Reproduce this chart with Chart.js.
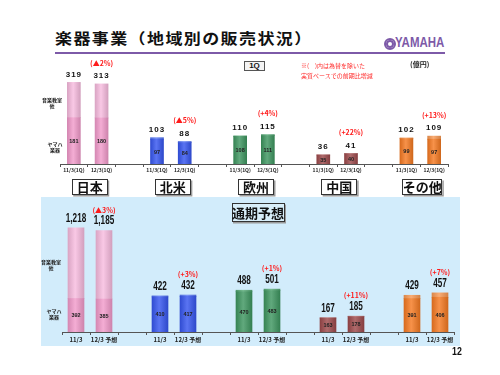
<!DOCTYPE html>
<html>
<head>
<meta charset="utf-8">
<script src="https://cdn.jsdelivr.net/npm/chart.js@4.4.1/dist/chart.umd.min.js"></script>
<style>
body { margin: 0; width: 500px; height: 375px; position: relative; overflow: hidden; background: #fff;
       font-family: 'Noto Sans CJK JP', sans-serif; }
.abs { position: absolute; white-space: nowrap; }
#title { left: 55px; top: 30px; font-size: 17px; font-weight: bold; line-height: 1; letter-spacing: 1.4px;
         color: #111; transform: scaleY(0.88); transform-origin: left top; }
#rule { left: 55px; top: 52px; width: 390px; height: 2px; background: #7d5aa8; }
#emblem { left: 384px; top: 38px; width: 8px; height: 8px; border-radius: 50%; background: #fff;
          border: 2px solid #7d5aa8; box-shadow: inset 0 0 0 2px #7d5aa8; }
#logo { left: 395px; top: 35px; font: bold 14px 'Liberation Sans', sans-serif; color: #7d5aa8; line-height: 1;
        transform: scaleX(0.82); transform-origin: left top; }
#panel { left: 41px; top: 197px; width: 419px; height: 149px; background: #d2ecfb; }
canvas { position: absolute; left: 0; }
#c1 { top: 55px; }
#c2 { top: 198px; }
#q1box { left: 244px; top: 61px; width: 19px; height: 8px; border: 1px solid #555; background: #f4f4f4;
         font: bold 8px 'Liberation Sans', sans-serif; line-height: 8px; text-align: center; color: #111; }
.note { left: 301px; font-size: 6px; color: #ff2a2a; line-height: 1; }
#unit { left: 410px; top: 61px; font-size: 7px; font-weight: bold; line-height: 1; color: #222; }
.side { font-size: 5px; font-weight: bold; line-height: 6px; text-align: center; width: 22px; color: #222; }
#page { left: 452px; top: 346px; font: bold 11px 'Liberation Sans', sans-serif; color: #111; line-height: 1;
        transform: scaleX(0.8); transform-origin: left top; }
</style>
</head>
<body>
<div id="panel" class="abs"></div>
<div id="title" class="abs">楽器事業（地域別の販売状況）</div>
<div id="rule" class="abs"></div>
<div id="emblem" class="abs"></div>
<div id="logo" class="abs">YAMAHA</div>

<canvas id="c1" width="500" height="145"></canvas>
<canvas id="c2" width="500" height="150"></canvas>

<div id="q1box" class="abs">1Q</div>
<div class="abs note" style="top:63px">※(　)内は為替を除いた</div>
<div class="abs note" style="top:73px">実質ベースでの前期比増減</div>
<div id="unit" class="abs">(億円)</div>
<div class="abs side" style="left:41px;top:97px">音楽教室<br>他</div>
<div class="abs side" style="left:44px;top:141px">ヤマハ<br>楽器</div>
<div class="abs side" style="left:40px;top:259px">音楽教室<br>他</div>
<div class="abs side" style="left:43px;top:308px">ヤマハ<br>楽器</div>
<div id="page" class="abs">12</div>

<script>
// values in 億円, two bars per region (previous year, current year)
const regions = ['日本', '北米', '欧州', '中国', 'その他'];
const q1Labels = ['11/3(1Q)', '12/3(1Q)'];
const fyLabels = ['11/3', '12/3 予想'];

const q1Total  = [319, 313, 103, 88, 110, 115, 36, 41, 102, 109];
const q1Yamaha = [181, 180, 97, 84, 108, 111, 35, 40, 99, 97];
const q1Change = ['(▲2%)', '(▲5%)', '(+4%)', '(+22%)', '(+13%)'];

const fyTotal  = [1218, 1185, 422, 432, 488, 501, 167, 185, 429, 457];
const fyYamaha = [392, 385, 410, 417, 470, 483, 163, 178, 391, 406];
const fyChange = ['(▲3%)', '(+3%)', '(+1%)', '(+11%)', '(+7%)'];

const regionColors = [
    { low: '#f29bcb', high: '#f8bcdf' },
    { low: '#3656ef', high: '#5878f4' },
    { low: '#3e9660', high: '#58ab78' },
    { low: '#9e4a4c', high: '#c07a7a' },
    { low: '#f57a22', high: '#f89a55' }
];

// spread pairs over slots, leaving an empty slot between regions
function toSlots(arr) {
    let out = [];
    regions.forEach((r, k) => {
        out.push(arr[k * 2], arr[k * 2 + 1]);
        if (k < regions.length - 1) out.push(null);
    });
    return out;
}
function slotLabels(pair) {
    return toSlots(regions.flatMap(() => pair)).map(v => v == null ? '' : v);
}

function mix(hex, amt) {
    let n = parseInt(hex.slice(1), 16);
    let c = [n >> 16, (n >> 8) & 255, n & 255];
    let t = amt > 0 ? 255 : 0, p = Math.abs(amt);
    c = c.map(v => Math.round(v + (t - v) * p));
    return `rgb(${c[0]},${c[1]},${c[2]})`;
}

function barFill(part, width) {
    return (c) => {
        let col = regionColors[Math.floor(c.dataIndex / 3)][part];
        let chart = c.chart;
        if (!chart.chartArea || !chart.scales.x) return col;
        let cx = chart.scales.x.getPixelForValue(c.dataIndex);
        let g = chart.ctx.createLinearGradient(cx - width / 2, 0, cx + width / 2, 0);
        g.addColorStop(0, mix(col, -0.12));
        g.addColorStop(0.45, mix(col, 0.18));
        g.addColorStop(1, mix(col, -0.15));
        return g;
    };
}

const fmt = v => v.toLocaleString('en-US');

const barText = {
    id: 'barText',
    afterDatasetsDraw(chart, args, o) {
        const { ctx, chartArea: area, scales: { x, y } } = chart;
        ctx.save();
        ctx.textAlign = 'center';
        ctx.textBaseline = 'middle';
        o.totals.forEach((v, i) => {
            if (v == null) return;
            let px = x.getPixelForValue(i);
            ctx.save();
            ctx.translate(px, y.getPixelForValue(v) - o.totalGap);
            ctx.scale(o.totalScale, 1);
            ctx.font = o.totalFont;
            ctx.fillStyle = '#111';
            ctx.letterSpacing = o.totalSpacing;
            ctx.fillText(fmt(v), 0, 0);
            ctx.restore();
            let yv = o.yamaha[i];
            ctx.font = o.innerFont;
            ctx.fillStyle = '#222';
            ctx.fillText(fmt(yv), px, (y.getPixelForValue(yv) + area.bottom) / 2 + 0.5);
        });
        ctx.font = o.changeFont;
        ctx.fillStyle = '#ff1a1a';
        o.changes.forEach((t, r) => {
            let i = r * 3 + 1;
            ctx.fillText(t, x.getPixelForValue(i), y.getPixelForValue(o.totals[i]) - o.changeGap);
        });
        if (o.extra) o.extra(chart);
        ctx.restore();
    }
};

function boxText(ctx, text, cx, top, w, h, fill) {
    ctx.fillStyle = '#9a9a9a';
    ctx.fillRect(cx - w / 2 + 1.5, top + 1.5, w, h);
    ctx.fillStyle = fill;
    ctx.fillRect(cx - w / 2, top, w, h);
    ctx.strokeStyle = '#333';
    ctx.lineWidth = 1;
    ctx.strokeRect(Math.round(cx - w / 2) + 0.5, top + 0.5, w - 1, h - 1);
    ctx.fillStyle = '#111';
    ctx.font = "bold 13px 'Noto Sans CJK JP'";
    ctx.textAlign = 'center';
    ctx.textBaseline = 'middle';
    ctx.fillText(text, cx, top + h / 2 + 0.5);
}

function makeChart(id, cfg) {
    let labels = slotLabels(cfg.labels);
    let totals = toSlots(cfg.totals);
    let yamaha = toSlots(cfg.yamaha);
    let others = totals.map((t, i) => t == null ? null : t - yamaha[i]);
    return new Chart(document.getElementById(id), {
        type: 'bar',
        data: {
            labels: labels,
            datasets: [
                { label: 'ヤマハ楽器', data: yamaha, backgroundColor: barFill('low', cfg.barWidth),
                  barThickness: cfg.barWidth },
                { label: '音楽教室他', data: others, backgroundColor: barFill('high', cfg.barWidth),
                  barThickness: cfg.barWidth }
            ]
        },
        options: {
            responsive: false,
            animation: false,
            devicePixelRatio: 1,
            layout: { padding: cfg.padding },
            plugins: {
                legend: { display: false },
                tooltip: { enabled: false },
                barText: {
                    totals: totals, yamaha: yamaha, changes: cfg.changes,
                    totalFont: cfg.totalFont, totalSpacing: cfg.totalSpacing, totalGap: cfg.totalGap,
                    totalScale: cfg.totalScale,
                    innerFont: cfg.innerFont, changeFont: cfg.changeFont, changeGap: cfg.changeGap,
                    extra: cfg.extra
                }
            },
            scales: {
                x: {
                    stacked: true,
                    offset: true,
                    border: { display: true, color: '#555', width: 1 },
                    grid: { display: true, offset: true, drawOnChartArea: false, drawTicks: true,
                            tickLength: 3, color: '#555' },
                    ticks: { autoSkip: false, maxRotation: 0, padding: cfg.tickPad,
                             font: { family: "'Noto Sans CJK JP'", size: cfg.tickSize, weight: 'bold' },
                             color: '#222' },
                    afterFit: s => { s.height = cfg.axisHeight; }
                },
                y: { stacked: true, display: false, min: 0, max: cfg.yMax }
            }
        },
        plugins: [barText]
    });
}

makeChart('c1', {
    labels: q1Labels, totals: q1Total, yamaha: q1Yamaha, changes: q1Change,
    barWidth: 13, yMax: 426, axisHeight: 36, tickPad: 0, tickSize: 5,
    padding: { left: 60, right: 52, top: 0, bottom: 0 },
    totalFont: "bold 8px 'Liberation Sans', sans-serif", totalSpacing: '1px', totalGap: 8, totalScale: 1,
    innerFont: "bold 5.5px 'Liberation Sans', sans-serif",
    changeFont: "bold 7px 'Noto Sans CJK JP'", changeGap: 21,
    extra: (chart) => {
        let x = chart.scales.x, top = chart.chartArea.bottom + 15;
        regions.forEach((r, k) => {
            let cx = (x.getPixelForValue(k * 3) + x.getPixelForValue(k * 3 + 1)) / 2 + 2;
            boxText(chart.ctx, r, cx, top, r.length > 2 ? 40 : 36, 16, '#fff');
        });
    }
});

makeChart('c2', {
    labels: fyLabels, totals: fyTotal, yamaha: fyYamaha, changes: fyChange,
    barWidth: 16, yMax: 1565, axisHeight: 16, tickPad: 1, tickSize: 6,
    padding: { left: 62, right: 46, top: 0, bottom: 0 },
    totalFont: "bold 12px 'Liberation Sans', sans-serif", totalSpacing: '0px', totalGap: 9.5, totalScale: 0.68,
    innerFont: "bold 5.5px 'Liberation Sans', sans-serif",
    changeFont: "bold 7px 'Noto Sans CJK JP'", changeGap: 20.5,
    extra: (chart) => {
        let a = chart.chartArea;
        boxText(chart.ctx, '通期予想', (a.left + a.right) / 2, 5, 53, 19, '#d8eef9');
    }
});
</script>
</body>
</html>
